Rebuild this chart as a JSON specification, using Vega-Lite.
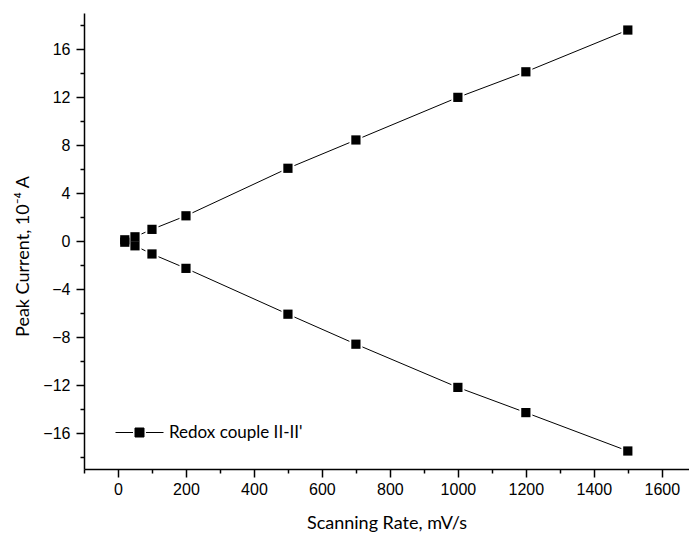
{
  "$schema": "https://vega.github.io/schema/vega-lite/v6.json",
  "width": 605,
  "height": 456,
  "autosize": "none",
  "padding": {"left": 84, "top": 13, "right": 0, "bottom": 66},
  "background": "white",
  "config": {
    "view": {"stroke": null},
    "axis": {
      "grid": false,
      "domainColor": "black",
      "domainWidth": 1.5,
      "tickColor": "black",
      "tickWidth": 1.5,
      "labelColor": "black",
      "labelFont": "Liberation Sans",
      "labelFontSize": 16,
      "labelFlush": false,
      "labelOverlap": false,
      "titleColor": "black",
      "titleFont": "Lato",
      "titleFontSize": 18,
      "titleFontWeight": "normal"
    }
  },
  "data": {
    "values": [
      {"rate": 20, "current": 0.1, "branch": "up", "series": "Redox couple II-II'"},
      {"rate": 50, "current": 0.35, "branch": "up", "series": "Redox couple II-II'"},
      {"rate": 100, "current": 0.97, "branch": "up", "series": "Redox couple II-II'"},
      {"rate": 200, "current": 2.1, "branch": "up", "series": "Redox couple II-II'"},
      {"rate": 500, "current": 6.06, "branch": "up", "series": "Redox couple II-II'"},
      {"rate": 700, "current": 8.42, "branch": "up", "series": "Redox couple II-II'"},
      {"rate": 1000, "current": 11.97, "branch": "up", "series": "Redox couple II-II'"},
      {"rate": 1200, "current": 14.1, "branch": "up", "series": "Redox couple II-II'"},
      {"rate": 1500, "current": 17.58, "branch": "up", "series": "Redox couple II-II'"},
      {"rate": 20, "current": -0.1, "branch": "down", "series": "Redox couple II-II'"},
      {"rate": 50, "current": -0.4, "branch": "down", "series": "Redox couple II-II'"},
      {"rate": 100, "current": -1.08, "branch": "down", "series": "Redox couple II-II'"},
      {"rate": 200, "current": -2.28, "branch": "down", "series": "Redox couple II-II'"},
      {"rate": 500, "current": -6.1, "branch": "down", "series": "Redox couple II-II'"},
      {"rate": 700, "current": -8.6, "branch": "down", "series": "Redox couple II-II'"},
      {"rate": 1000, "current": -12.2, "branch": "down", "series": "Redox couple II-II'"},
      {"rate": 1200, "current": -14.3, "branch": "down", "series": "Redox couple II-II'"},
      {"rate": 1500, "current": -17.5, "branch": "down", "series": "Redox couple II-II'"}
    ]
  },
  "encoding": {
    "x": {
      "field": "rate",
      "type": "quantitative",
      "scale": {"domain": [-100, 1680], "nice": false, "zero": false},
      "axis": {
        "title": "Scanning Rate, mV/s",
        "values": [-100, 0, 100, 200, 300, 400, 500, 600, 700, 800, 900, 1000, 1100, 1200, 1300, 1400, 1500, 1600],
        "format": "d",
        "labelExpr": "datum.value >= 0 && datum.value % 200 === 0 ? datum.label : ''",
        "tickSize": {"condition": {"test": "datum.value % 200 === 0", "value": 8}, "value": 4},
        "labelPadding": 4,
        "titlePadding": 17
      }
    },
    "y": {
      "field": "current",
      "type": "quantitative",
      "scale": {"domain": [-19, 19], "nice": false, "zero": false},
      "axis": {
        "title": "Peak Current, 10⁻⁴ A",
        "values": [-18, -16, -14, -12, -10, -8, -6, -4, -2, 0, 2, 4, 6, 8, 10, 12, 14, 16, 18],
        "format": "d",
        "labelExpr": "datum.value % 4 === 0 ? datum.label : ''",
        "tickSize": {"condition": {"test": "datum.value % 4 === 0", "value": 8}, "value": 4},
        "labelPadding": 6,
        "titleX": -56,
        "titleY": 243,
        "titleBaseline": "alphabetic"
      }
    }
  },
  "layer": [
    {
      "mark": {"type": "line", "color": "black", "strokeWidth": 1},
      "encoding": {"detail": {"field": "branch"}}
    },
    {
      "mark": {"type": "point", "shape": "square", "filled": true, "color": "white", "size": 169, "opacity": 1}
    },
    {
      "mark": {"type": "point", "shape": "square", "filled": true, "size": 85, "opacity": 1},
      "encoding": {
        "color": {
          "field": "series",
          "type": "nominal",
          "scale": {"range": ["black"]},
          "legend": {
            "title": null,
            "orient": "none",
            "legendX": 31,
            "legendY": 395,
            "symbolType": "M-1,0H-0.27M0.27,0H1M-0.1875,-0.1875H0.1875V0.1875H-0.1875Z",
            "symbolSize": 2304,
            "symbolFillColor": "black",
            "symbolStrokeColor": "black",
            "symbolStrokeWidth": 1,
            "symbolOpacity": 1,
            "labelFont": "Lato",
            "labelFontSize": 17,
            "labelColor": "black",
            "labelOffset": 5,
            "padding": 0
          }
        }
      }
    }
  ]
}
